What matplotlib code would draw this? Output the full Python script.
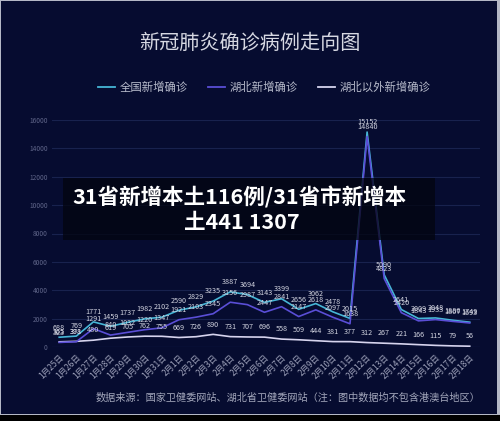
import numpy as np
import matplotlib.pyplot as plt
from matplotlib.patches import Rectangle
from matplotlib.lines import Line2D

plt.rcParams['font.family'] = ['Noto Sans CJK SC', 'DejaVu Sans']

# data
dates = ['1月25日', '1月26日', '1月27日', '1月28日', '1月29日', '1月30日', '1月31日',
         '2月1日', '2月2日', '2月3日', '2月4日', '2月5日', '2月6日', '2月7日', '2月8日',
         '2月9日', '2月10日', '2月11日', '2月12日', '2月13日', '2月14日', '2月15日',
         '2月16日', '2月17日', '2月18日']
national = [688, 769, 1771, 1459, 1737, 1982, 2102, 2590, 2829, 3235, 3887, 3694, 3143,
            3399, 2656, 3062, 2478, 2015, 15152, 5090, 2641, 2009, 2048, 1886, 1749]
hubei = [323, 371, 1291, 840, 1032, 1220, 1347, 1921, 2103, 2345, 3156, 2987, 2447,
         2841, 2147, 2618, 2097, 1638, 14840, 4823, 2420, 1843, 1933, 1807, 1693]
outside = [365, 398, 480, 619, 705, 762, 755, 669, 726, 890, 731, 707, 696,
           558, 509, 444, 381, 377, 312, 267, 221, 166, 115, 79, 56]
series_names = ['全国新增确诊', '湖北新增确诊', '湖北以外新增确诊']
colors = ['#46b6d6', '#5a4ed6', '#d6d4ee']

bg = '#060c30'
fig = plt.figure(figsize=(5, 4.21), dpi=100, facecolor='#b4b8c6')
# navy panel + black strip at bottom
fig.add_artist(Rectangle((1/500, 7/421), 496/500, 413/421, transform=fig.transFigure,
                         facecolor=bg, edgecolor='none', zorder=-2))
fig.add_artist(Rectangle((0, 0), 1, 6/421, transform=fig.transFigure,
                         facecolor='#000000', edgecolor='none', zorder=-2))

ax = fig.add_axes([52/500, 1 - 347/421, 428/500, 227/421])
ax.set_zorder(1)
ax.set_facecolor('none')
x = np.arange(len(dates))

for vals, c in zip([outside, national, hubei], [colors[2], colors[0], colors[1]]):
    ax.plot(x, vals, color=c, lw=1.2, zorder=3)
    for xi, v in zip(x, vals):
        ax.annotate(str(v), (xi, v), xytext=(0, 7), textcoords='offset points',
                    ha='center', va='center', fontsize=5.2, color='#d2d4e0', zorder=4)

ax.set_xlim(-0.42, 24.6)
ax.set_ylim(0, 16000)
ax.set_yticks(np.arange(0, 16001, 2000))
ax.grid(axis='y', color='#18224e', lw=0.8)
ax.axhline(0, color='#26306a', lw=0.8)
for s in ax.spines.values():
    s.set_visible(False)
ax.tick_params(axis='y', length=0, labelsize=4.8, labelcolor='#5e6488', pad=3)
ax.tick_params(axis='x', length=0, labelsize=6, labelcolor='#9ea2ba', pad=4)
ax.set_xticks(x)
ax.set_xticklabels(dates, rotation=45, ha='right', va='top', rotation_mode='anchor')

fig.text(0.5, 1 - 43/421, '新冠肺炎确诊病例走向图', ha='center', va='center',
         fontsize=14.5, color='#d6d8e2')

# legend
leg_x = [98, 208, 318]
for lx, name, c in zip(leg_x, series_names, colors):
    fig.add_artist(Line2D([lx/500, (lx + 17)/500], [1 - 87/421] * 2,
                          transform=fig.transFigure, color=c, lw=1.3))
    fig.text((lx + 22)/500, 1 - 87/421, name, ha='left', va='center',
             fontsize=8.2, color='#b8bccc')

fig.text(96/500, 1 - 398/421,
         '数据来源：国家卫健委网站、湖北省卫健委网站（注：图中数据均不包含港澳台地区）',
         ha='left', va='center', fontsize=7.3, color='#a4a8bc')

# overlay banner
fig.add_artist(Rectangle((63/500, 1 - 240/421), 372/500, 62/421, transform=fig.transFigure,
                         facecolor='#02040f', alpha=0.75, edgecolor='none', zorder=10))
fig.text(239/500, 1 - 197/421, '31省新增本土116例/31省市新增本', ha='center', va='center',
         fontsize=15.5, fontweight='bold', color='white', zorder=11)
fig.text(242/500, 1 - 222/421, '土441 1307', ha='center', va='center',
         fontsize=15.5, fontweight='bold', color='white', zorder=11)

fig.savefig('out.png', dpi=100, facecolor=fig.get_facecolor())
